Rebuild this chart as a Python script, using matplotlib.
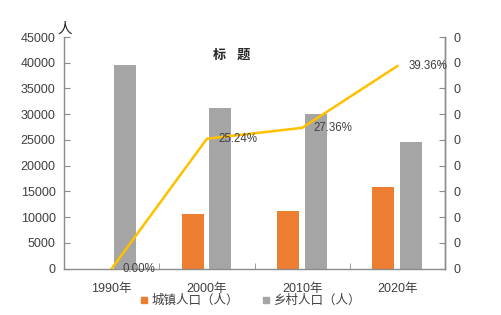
import numpy as np
import matplotlib.pyplot as plt
from matplotlib.lines import Line2D

plt.rcParams['font.family'] = ['Liberation Sans', 'Noto Sans CJK SC', 'DejaVu Sans']

# data
years = ["1990年", "2000年", "2010年", "2020年"]
urban = [0, 10550, 11260, 15930]
rural = [39600, 31200, 30100, 24650]
rate = [0.0, 0.2524, 0.2736, 0.3936]
rate_labels = ["0.00%", "25.24%", "27.36%", "39.36%"]

orange = "#ED7D31"
grey = "#A5A5A5"
gold = "#FFC000"
axis_col = "#8C8C8C"
text_col = "#404040"

fig = plt.figure(figsize=(5.02, 3.15), dpi=100)
ax = fig.add_axes([0.1275, 0.147, 0.759, 0.7355])
ax2 = ax.twinx()

x = np.arange(len(years))
w = 0.23
ax.bar(x - 0.147, urban, w, color=orange, zorder=2)
ax.bar(x + 0.142, rural, w, color=grey, zorder=2)

ax.set_xlim(-0.5, 3.5)
ax.set_ylim(0, 45000)
ax.set_yticks(np.arange(0, 45001, 5000))
ax.set_xticks(x)
ax.set_xticklabels(years)
ax.set_xticks(np.arange(0.5, 3.5, 1), minor=True)

ax2.plot(x, rate, color=gold, lw=1.8, zorder=3)
ax2.set_ylim(0, 0.45)
ax2.set_yticks(np.arange(0, 0.4501, 0.05))
ax2.set_yticklabels(["%.0f" % v for v in np.arange(0, 0.4501, 0.05)])
for xi, r, lab in zip(x, rate, rate_labels):
    ax2.annotate(lab, (xi, r), xytext=(8, 0), textcoords="offset points",
                 va="center", ha="left", fontsize=8.3, color=text_col)

for a in (ax, ax2):
    a.spines["top"].set_visible(False)
    for s in ("left", "right", "bottom"):
        a.spines[s].set_color(axis_col)
        a.spines[s].set_linewidth(1.0)
    a.tick_params(colors=axis_col, labelcolor=text_col, labelsize=9, length=4)
ax2.spines["left"].set_visible(False)
ax2.spines["bottom"].set_visible(False)
ax.tick_params(axis="y", direction="in", pad=6)
ax2.tick_params(axis="y", direction="in", pad=6)
ax.tick_params(axis="x", which="major", length=0, pad=10)
ax.tick_params(axis="x", which="minor", direction="in", length=4, color=axis_col)

fig.text(232 / 502, 1 - 56 / 315, "标   题", ha="center", va="center",
         fontsize=9.5, fontweight="bold", color="#262626")
fig.text(64.5 / 502, 1 - 29 / 315, "人", ha="center", va="center",
         fontsize=10.5, color="#262626")

handles = [Line2D([], [], marker="s", ls="none", color=orange, markersize=5),
           Line2D([], [], marker="s", ls="none", color=grey, markersize=5)]
fig.legend(handles, ["城镇人口（人）", "乡村人口（人）"], loc="center",
           bbox_to_anchor=(251 / 502, 1 - 301 / 315), ncol=2, frameon=False,
           fontsize=9, handlelength=0.5, handletextpad=0.35, columnspacing=1.9,
           labelcolor=text_col, borderpad=0)

fig.savefig("out.png", dpi=100)
